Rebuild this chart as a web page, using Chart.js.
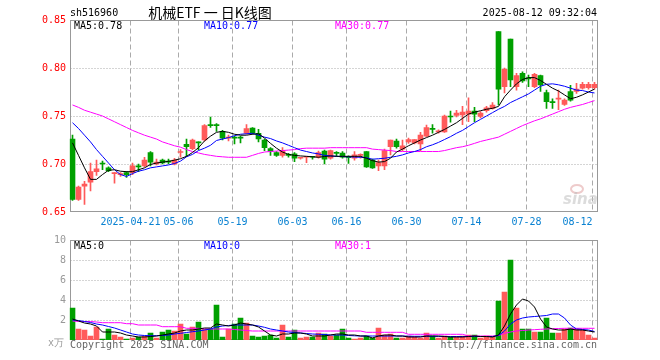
<!DOCTYPE html>
<html>
<head>
<meta charset="utf-8">
<script src="https://cdn.jsdelivr.net/npm/chart.js@4.4.0/dist/chart.umd.min.js"></script>
<style>
  body { margin: 0; background: #fff; }
  #wrap { position: relative; width: 660px; height: 360px; overflow: hidden; font: 10px "DejaVu Sans Mono", monospace; }
  #wrap div { position: absolute; white-space: nowrap; line-height: 12px; }
  canvas { position: absolute; left: 0; }
</style>
</head>
<body>
<div id="wrap">
  <canvas id="kline" width="660" height="230" style="top:0"></canvas>
  <canvas id="vol" width="660" height="130" style="top:230px"></canvas>

  <div style="left:70px;top:7px;color:#000">sh516960</div>
  <div style="left:0;width:420px;top:5px;text-align:center;font:14px 'Noto Sans CJK SC';line-height:14px;color:#000">机械ETF 一 日K线图</div>
  <div style="right:63px;top:7px;color:#000">2025-08-12 09:32:04</div>

  <div style="left:74px;top:20px;color:#000">MA5:0.78</div>
  <div style="left:204px;top:20px;color:#0000ff">MA10:0.77</div>
  <div style="left:335px;top:20px;color:#ff00ff">MA30:0.77</div>

  <div style="left:74px;top:240px;color:#000">MA5:0</div>
  <div style="left:204px;top:240px;color:#0000ff">MA10:0</div>
  <div style="left:335px;top:240px;color:#ff00ff">MA30:1</div>

  <div style="left:70px;top:339px;color:#666">Copyright 2025 SINA.COM</div>
  <div style="right:63px;top:339px;color:#666">http://finance.sina.com.cn</div>
</div>

<script>
// ---- 数据 ----
const dates = ['04-07','04-08','04-09','04-10','04-11','04-14','04-15','04-16','04-17','04-18',
  '04-21','04-22','04-23','04-24','04-25','04-28','04-29','04-30','05-06','05-07',
  '05-08','05-09','05-12','05-13','05-14','05-15','05-16','05-19','05-20','05-21',
  '05-22','05-23','05-26','05-27','05-28','05-29','05-30','06-03','06-04','06-05',
  '06-06','06-09','06-10','06-11','06-12','06-13','06-16','06-17','06-18','06-19',
  '06-20','06-23','06-24','06-25','06-26','06-27','06-30','07-01','07-02','07-03',
  '07-04','07-07','07-08','07-09','07-10','07-11','07-14','07-15','07-16','07-17',
  '07-18','07-21','07-22','07-23','07-24','07-25','07-28','07-29','07-30','07-31',
  '08-01','08-04','08-05','08-06','08-07','08-08','08-11','08-12'];

const open = [0.726,0.663,0.677,0.681,0.692,0.701,0.696,0.690,0.689,0.691,
  0.691,0.698,0.698,0.712,0.700,0.704,0.703,0.700,0.712,0.7205,
  0.716,0.723,0.725,0.741,0.741,0.734,0.727,0.728,0.728,0.732,
  0.7375,0.732,0.725,0.716,0.712,0.709,0.710,0.7105,0.706,0.707,
  0.7075,0.707,0.7135,0.706,0.7115,0.7115,0.707,0.706,0.709,0.713,
  0.704,0.698,0.698,0.718,0.724,0.7155,0.723,0.722,0.721,0.729,
  0.7365,0.7335,0.7335,0.750,0.7505,0.751,0.752,0.755,0.7495,0.7555,
  0.758,0.838,0.7805,0.830,0.7805,0.7945,0.789,0.7805,0.792,0.7745,
  0.7645,0.7675,0.762,0.7755,0.7755,0.779,0.7795,0.7795];
const high = [0.730,0.677,0.682,0.701,0.704,0.703,0.697,0.691,0.691,0.692,
  0.701,0.700,0.707,0.713,0.705,0.705,0.705,0.706,0.715,0.726,
  0.726,0.723,0.741,0.749,0.742,0.735,0.730,0.729,0.729,0.741,
  0.738,0.736,0.726,0.717,0.713,0.717,0.711,0.712,0.707,0.708,
  0.708,0.7135,0.7145,0.7145,0.713,0.713,0.7085,0.713,0.7105,0.713,
  0.705,0.704,0.7155,0.725,0.726,0.725,0.727,0.7255,0.733,0.7405,
  0.741,0.7355,0.751,0.755,0.756,0.760,0.769,0.759,0.7545,0.760,
  0.764,0.838,0.800,0.830,0.7945,0.796,0.7925,0.7945,0.7925,0.777,
  0.768,0.777,0.768,0.782,0.784,0.785,0.785,0.785];
const low = [0.662,0.662,0.658,0.672,0.688,0.694,0.692,0.680,0.687,0.686,
  0.689,0.692,0.697,0.698,0.699,0.700,0.700,0.699,0.707,0.708,
  0.715,0.715,0.724,0.738,0.734,0.725,0.724,0.721,0.722,0.731,
  0.731,0.723,0.714,0.709,0.708,0.707,0.707,0.7025,0.705,0.7015,
  0.705,0.706,0.700,0.705,0.708,0.706,0.7005,0.704,0.706,0.6965,
  0.6955,0.693,0.694,0.7095,0.7165,0.714,0.7215,0.721,0.714,0.7285,
  0.732,0.732,0.733,0.7435,0.749,0.741,0.744,0.744,0.748,0.754,
  0.757,0.7615,0.774,0.7805,0.777,0.785,0.7805,0.7795,0.7755,0.758,
  0.758,0.7565,0.761,0.7655,0.7735,0.778,0.778,0.778];
const close = [0.663,0.676,0.679,0.692,0.695,0.700,0.693,0.691,0.690,0.689,
  0.698,0.697,0.704,0.702,0.702,0.701,0.702,0.704,0.713,0.718,
  0.725,0.722,0.740,0.740,0.740,0.727,0.728,0.727,0.727,0.737,
  0.732,0.726,0.717,0.713,0.709,0.714,0.709,0.706,0.7065,0.7075,
  0.707,0.712,0.705,0.714,0.711,0.707,0.7065,0.7095,0.7095,0.697,
  0.696,0.7015,0.714,0.725,0.718,0.719,0.7255,0.7255,0.730,0.738,
  0.736,0.7345,0.750,0.749,0.753,0.754,0.755,0.752,0.753,0.7585,
  0.7615,0.778,0.7985,0.7875,0.792,0.7865,0.7885,0.7935,0.7825,0.765,
  0.764,0.768,0.7665,0.7665,0.778,0.783,0.783,0.783];

const ma5 = [0.722,0.709,0.696,0.684,0.684,0.689,0.6935,0.694,0.6925,0.692,
  0.692,0.694,0.696,0.6995,0.701,0.702,0.7028,0.704,0.7055,0.708,
  0.712,0.717,0.724,0.729,0.733,0.734,0.733,0.731,0.730,0.730,
  0.731,0.7315,0.727,0.7215,0.7165,0.7125,0.710,0.709,0.7084,0.708,
  0.7075,0.707,0.7078,0.7084,0.708,0.708,0.708,0.708,0.708,0.706,
  0.7035,0.702,0.7025,0.706,0.7125,0.7155,0.719,0.722,0.725,0.7275,
  0.730,0.733,0.736,0.7395,0.743,0.7475,0.752,0.754,0.7555,0.757,
  0.758,0.760,0.770,0.777,0.7835,0.788,0.790,0.790,0.787,0.783,
  0.779,0.776,0.772,0.768,0.7695,0.772,0.775,0.778];
const ma10 = [0.743,0.737,0.730,0.723,0.715,0.708,0.701,0.694,0.689,0.687,
  0.690,0.6925,0.694,0.696,0.697,0.698,0.699,0.7005,0.703,0.7075,
  0.710,0.714,0.7165,0.7195,0.7245,0.726,0.7275,0.7295,0.731,0.7315,
  0.732,0.730,0.728,0.7265,0.724,0.722,0.7195,0.717,0.7145,0.713,
  0.7115,0.7105,0.709,0.7084,0.708,0.7077,0.7075,0.7072,0.707,0.7065,
  0.705,0.7055,0.706,0.707,0.708,0.7095,0.7115,0.713,0.715,0.718,
  0.720,0.7225,0.7255,0.7285,0.732,0.735,0.739,0.743,0.7465,0.750,
  0.7535,0.757,0.760,0.764,0.767,0.770,0.773,0.777,0.781,0.783,
  0.7835,0.7825,0.781,0.779,0.777,0.7765,0.775,0.774];
const ma30 = [0.7615,0.759,0.756,0.754,0.752,0.750,0.747,0.744,0.741,0.738,
  0.735,0.7325,0.730,0.728,0.726,0.723,0.721,0.719,0.7175,0.715,
  0.713,0.7115,0.710,0.709,0.708,0.7075,0.707,0.707,0.707,0.707,
  0.709,0.711,0.7125,0.713,0.7135,0.714,0.7145,0.715,0.716,0.7165,
  0.7165,0.7165,0.7165,0.717,0.717,0.717,0.717,0.717,0.717,0.717,
  0.7155,0.715,0.7145,0.714,0.713,0.713,0.713,0.713,0.713,0.713,
  0.713,0.713,0.714,0.7155,0.717,0.718,0.7195,0.7215,0.7235,0.725,
  0.7265,0.728,0.731,0.734,0.737,0.740,0.7425,0.745,0.747,0.7495,
  0.752,0.7545,0.757,0.759,0.7605,0.762,0.764,0.766];

// 成交量（万手）
const volume = [3.2,1.1,1.0,0.4,1.3,0.1,1.1,0.5,0.3,0.1,
  0.2,0.3,0.4,0.7,0.2,0.8,1.0,0.9,1.6,0.6,
  1.3,1.8,1.1,1.1,3.5,0.3,1.1,1.6,2.2,1.7,
  0.4,0.3,0.4,0.5,0.2,1.5,0.3,1.0,0.2,0.3,
  0.3,0.7,0.6,0.4,0.5,1.1,0.2,0.1,0.2,0.4,
  0.2,1.2,0.5,0.6,0.2,0.2,0.4,0.3,0.2,0.7,
  0.4,0.2,0.4,0.3,0.3,0.4,0.5,0.5,0.2,0.4,
  0.3,3.9,4.8,8.0,3.2,1.1,1.1,0.8,0.8,2.2,
  0.7,0.7,1.1,1.2,1.1,1.0,0.5,0.2];
const vma5 = [2.1,1.9,1.7,1.6,1.4,0.8,0.8,0.8,0.7,0.5,
  0.4,0.3,0.3,0.35,0.4,0.5,0.6,0.7,0.9,1.0,
  1.0,1.1,1.2,1.2,1.6,1.5,1.4,1.5,1.7,1.6,
  1.5,1.3,0.9,0.5,0.4,0.6,0.6,0.7,0.7,0.6,
  0.4,0.4,0.4,0.5,0.6,0.6,0.5,0.5,0.4,0.4,
  0.2,0.4,0.5,0.5,0.4,0.4,0.3,0.3,0.3,0.4,
  0.4,0.4,0.35,0.3,0.3,0.3,0.35,0.4,0.35,0.35,
  0.3,0.5,1.4,2.6,3.5,4.1,3.9,3.3,2.1,1.3,
  1.1,1.0,1.0,1.1,1.0,1.0,0.9,0.8];
const vma10 = [2.0,1.95,1.85,1.75,1.6,1.5,1.35,1.2,1.0,0.8,
  0.6,0.5,0.45,0.43,0.43,0.45,0.5,0.6,0.67,0.75,
  0.83,0.9,1.0,1.1,1.3,1.4,1.45,1.5,1.5,1.5,
  1.5,1.4,1.27,1.1,1.0,0.9,0.8,0.75,0.7,0.65,
  0.6,0.57,0.55,0.5,0.5,0.5,0.45,0.42,0.4,0.4,
  0.4,0.4,0.4,0.4,0.4,0.4,0.38,0.37,0.37,0.37,
  0.37,0.36,0.36,0.35,0.35,0.35,0.35,0.35,0.35,0.35,
  0.35,0.45,0.9,1.6,2.0,2.2,2.3,2.35,2.4,2.45,
  2.6,2.6,2.2,1.5,1.1,1.05,1.0,0.85];
const vma30 = [1.9,1.85,1.85,1.85,1.8,1.73,1.73,1.73,1.73,1.63,
  1.63,1.5,1.5,1.5,1.5,1.33,1.33,1.33,1.33,1.17,
  1.17,1.17,1.1,1.1,1.1,1.1,1.1,1.05,1.0,0.95,
  0.9,0.9,0.9,0.9,0.9,0.9,0.9,0.9,0.9,0.9,
  0.9,0.9,0.9,0.9,0.9,0.9,0.9,0.9,0.9,0.77,
  0.77,0.77,0.77,0.77,0.77,0.77,0.57,0.57,0.57,0.57,
  0.57,0.57,0.57,0.57,0.57,0.57,0.4,0.4,0.4,0.4,
  0.4,0.45,0.67,0.8,0.9,0.95,1.0,1.03,1.07,1.1,
  1.13,1.15,1.17,1.17,1.17,1.17,1.17,1.17];

const tickLabels = ['2025-04-21','05-06','05-19','06-03','06-16','06-30','07-14','07-28','08-12'];
const priceTicks = [0.65, 0.70, 0.75, 0.80, 0.85];
const volTicks = [2, 4, 6, 8, 10];

// ---- 样式 ----
const RED = '#ff5a5a';
const GREEN = '#00a000';
const FONT = '10px "DejaVu Sans Mono", monospace';

const candleColor = close.map((c, i) => c >= open[i] ? RED : GREEN);
const tickIdx = tickLabels.map(t => dates.indexOf(t.slice(-5)));

// 网格、边框和坐标文字
const frame = {
  id: 'frame',
  beforeDatasetsDraw(chart, args, opts) {
    const { ctx, chartArea: a, scales: { x, y } } = chart;
    const top = Math.round(a.top) + 0.5, bottom = Math.round(a.bottom) - 0.5;
    const left = 70.5, right = 597.5;
    ctx.save();
    ctx.lineWidth = 1;
    ctx.strokeStyle = '#aaa';
    ctx.setLineDash([1, 2]);
    opts.grid.forEach(v => {
      const py = Math.round(y.getPixelForValue(v)) + 0.5;
      if (py <= top + 1 || py >= bottom - 1) return;
      ctx.beginPath(); ctx.moveTo(left, py); ctx.lineTo(right, py); ctx.stroke();
    });
    ctx.setLineDash([5, 3]);
    tickIdx.forEach(i => {
      const px = Math.floor(x.getPixelForValue(i) - 2) + 0.5;
      ctx.beginPath(); ctx.moveTo(px, top); ctx.lineTo(px, bottom); ctx.stroke();
    });
    ctx.setLineDash([]);
    ctx.strokeStyle = '#999';
    ctx.strokeRect(left, top, right - left, bottom - top);
    ctx.restore();
  },
  afterDraw(chart, args, opts) {
    const { ctx, chartArea: a, scales: { x, y } } = chart;
    ctx.save();
    ctx.font = FONT;
    ctx.textBaseline = 'middle';
    ctx.textAlign = 'right';
    ctx.fillStyle = opts.tickColor;
    opts.ticks.forEach(v => ctx.fillText(opts.fmt(v), 66, y.getPixelForValue(v)));
    if (opts.unit) ctx.fillText(opts.unit, 64, a.bottom + 3);
    if (opts.dates) {
      ctx.fillStyle = '#0a82d2';
      tickIdx.forEach((i, k) => {
        const px = Math.floor(x.getPixelForValue(i) - 2) + 0.5;
        ctx.textAlign = k === tickIdx.length - 1 ? 'right' : 'center';
        ctx.fillText(tickLabels[k], px, a.bottom + 10);
      });
      // 水印
      ctx.globalAlpha = 0.55;
      ctx.strokeStyle = '#e0a0a0';
      ctx.lineWidth = 2;
      ctx.beginPath(); ctx.ellipse(577, 189, 6, 4, 0, 0, Math.PI * 2); ctx.stroke();
      ctx.fillStyle = '#c0c0c0';
      ctx.font = 'italic bold 15px "DejaVu Sans", sans-serif';
      ctx.textAlign = 'left';
      ctx.textBaseline = 'alphabetic';
      ctx.fillText('sina', 563, 204);
    }
    ctx.restore();
  }
};

function lineSet(data, color, order) {
  return { type: 'line', data, borderColor: color, borderWidth: 1, pointRadius: 0, fill: false, tension: 0, order };
}

function options(yMin, yMax, pad, frameOpts) {
  return {
    responsive: false,
    animation: false,
    events: [],
    layout: { padding: pad },
    plugins: { legend: { display: false }, tooltip: { enabled: false }, frame: frameOpts },
    scales: {
      x: { display: false, offset: true },
      y: { display: false, min: yMin, max: yMax }
    }
  };
}

document.addEventListener('DOMContentLoaded', function() {
  // ================== K线 ==================
  new Chart(document.getElementById('kline'), {
    type: 'bar',
    data: {
      labels: dates,
      datasets: [
        lineSet(ma5, '#000000', 0),
        lineSet(ma10, '#0000ff', 1),
        lineSet(ma30, '#ff00ff', 2),
        {
          data: open.map((o, i) => [Math.min(o, close[i]), Math.max(o, close[i])]),
          backgroundColor: candleColor, barThickness: 5, minBarLength: 1, grouped: false, order: 3
        },
        {
          data: low.map((l, i) => [l, high[i]]),
          backgroundColor: candleColor, barThickness: 1, grouped: false, order: 4
        }
      ]
    },
    options: options(0.65, 0.85, { left: 69.5, right: 62.5, top: 20, bottom: 18 }, {
      grid: priceTicks, ticks: priceTicks, tickColor: '#ff0000', fmt: v => v.toFixed(2), dates: true
    }),
    plugins: [frame]
  });

  // ================== 成交量 ==================
  new Chart(document.getElementById('vol'), {
    type: 'bar',
    data: {
      labels: dates,
      datasets: [
        lineSet(vma5, '#000000', 0),
        lineSet(vma10, '#0000ff', 1),
        lineSet(vma30, '#ff00ff', 2),
        { data: volume, backgroundColor: candleColor, barThickness: 5, grouped: false, order: 3 }
      ]
    },
    options: options(0, 10, { left: 69.5, right: 62.5, top: 10, bottom: 20 }, {
      grid: volTicks, ticks: volTicks, tickColor: '#999', fmt: v => String(v), unit: 'x万', dates: false
    }),
    plugins: [frame]
  });
});
</script>
</body>
</html>
